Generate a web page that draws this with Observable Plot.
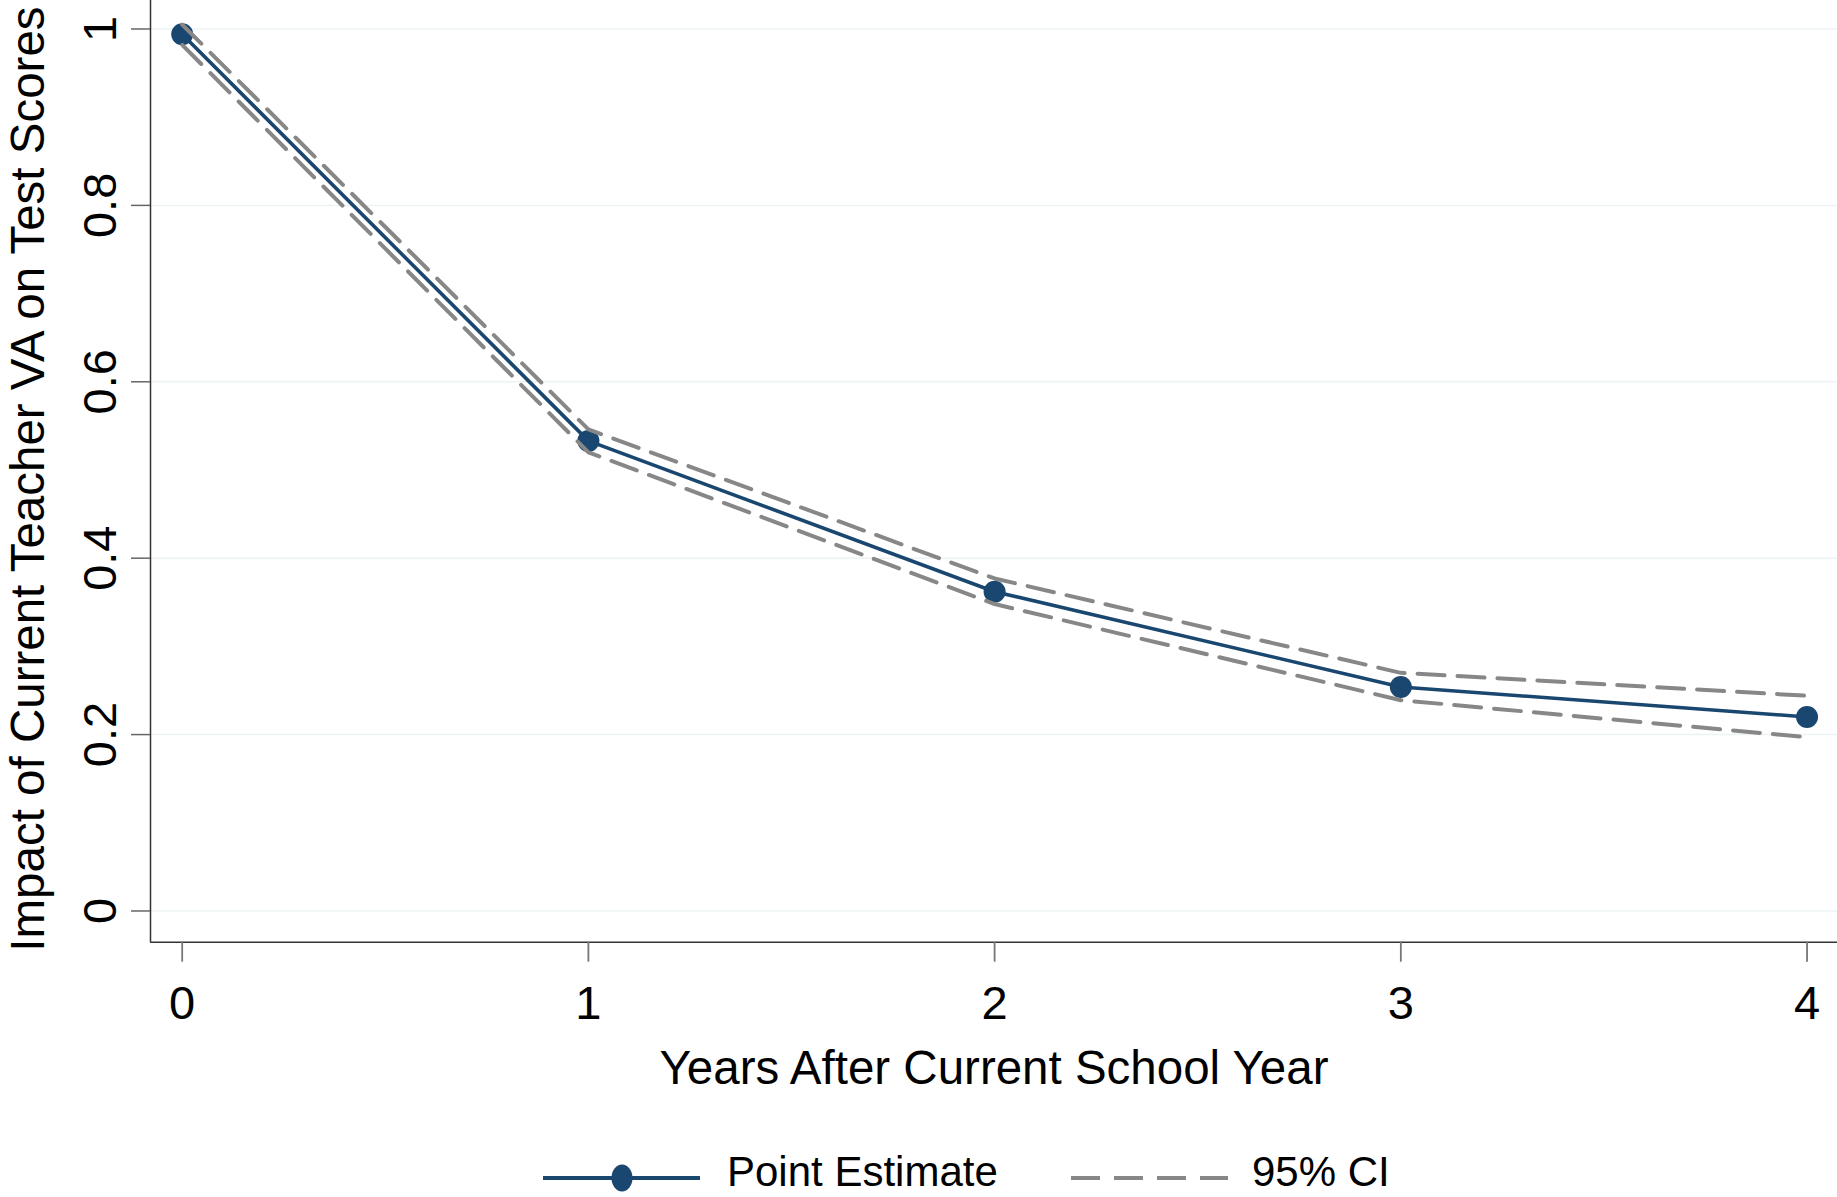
<!DOCTYPE html>
<html>
<head>
<meta charset="utf-8">
<script src="https://cdn.jsdelivr.net/npm/d3@7"></script>
<script src="https://cdn.jsdelivr.net/npm/@observablehq/plot@0.6"></script>
<style>
  html, body { margin: 0; padding: 0; background: white; }
  body { width: 1837px; height: 1197px; overflow: hidden; font-family: "Liberation Sans", Arial, sans-serif; }
  #legend { position: relative; width: 1837px; height: 67px; overflow: hidden; }
  #legend .sw { position: absolute; top: 0; }
  #legend .lab { position: absolute; font-size: 42px; line-height: 32px; color: black; white-space: nowrap; }
</style>
</head>
<body>
<div id="chart"></div>
<div id="legend"></div>
<script>
// ---- data ----
const years = [0, 1, 2, 3, 4];
const pointEstimate = [0.994, 0.533, 0.362, 0.254, 0.220];
const ciUpper = [1.005, 0.546, 0.377, 0.270, 0.244];
const ciLower = [0.982, 0.520, 0.348, 0.239, 0.197];
const xTicks = [0, 1, 2, 3, 4];
const xTickLabels = ["0", "1", "2", "3", "4"];
const yTicks = [0, 0.2, 0.4, 0.6, 0.8, 1];
const yTickLabels = ["0", "0.2", "0.4", "0.6", "0.8", "1"];
const xTitle = "Years After Current School Year";
const yTitle = "Impact of Current Teacher VA on Test Scores";
const seriesNames = ["Point Estimate", "95% CI"];

const table = years.map((x, i) => ({x, est: pointEstimate[i], hi: ciUpper[i], lo: ciLower[i]}));

const navy = "#1a476f";
const gray = "#878787";

const chart = Plot.plot({
  width: 1837,
  height: 1130,
  marginLeft: 150,
  marginRight: 0,
  marginTop: 0,
  marginBottom: 188.3,
  style: {fontFamily: "'Liberation Sans', Arial, sans-serif", fontSize: "47px", background: "white", overflow: "visible", color: "black"},
  x: {domain: [-0.078, 4.075]},
  y: {domain: [-0.0354, 1.0323]},
  marks: [
    Plot.gridY(yTicks, {stroke: "#edf3f3", strokeOpacity: 1, strokeWidth: 1.5}),
    Plot.ruleX([-0.078], {stroke: "#333", strokeWidth: 1.5}),
    Plot.ruleY([-0.0354], {stroke: "#333", strokeWidth: 1.5}),
    Plot.axisY(yTicks, {
      tickSize: 19, tickPadding: 16, tickRotate: -90, fontSize: 47,
      stroke: "#666", strokeWidth: 1.5, fill: "black",
      tickFormat: d => yTickLabels[yTicks.indexOf(d)], label: null
    }),
    Plot.axisX(xTicks, {
      tickSize: 20, tickPadding: 23, fontSize: 47,
      stroke: "#777", strokeWidth: 1.8, fill: "black",
      tickFormat: d => xTickLabels[xTicks.indexOf(d)], label: null
    }),
    Plot.text([xTitle], {frameAnchor: "bottom", dy: 141.3, lineAnchor: "bottom", fontSize: 47.5, fill: "black"}),
    Plot.text([yTitle], {frameAnchor: "left", dx: -107, dy: 7.7, rotate: -90, lineAnchor: "bottom", textAnchor: "middle", fontSize: 47.5, fill: "black"}),
    Plot.line(table, {x: "x", y: "est", stroke: navy, strokeWidth: 3.6}),
    Plot.dot(table, {x: "x", y: "est", r: 11, fill: navy, stroke: "none"}),
    Plot.line(table, {x: "x", y: "hi", stroke: gray, strokeWidth: 4, strokeDasharray: "27,13"}),
    Plot.line(table, {x: "x", y: "lo", stroke: gray, strokeWidth: 4, strokeDasharray: "27,13"})
  ]
});
document.getElementById("chart").appendChild(chart);

// ---- legend ----
const legend = document.getElementById("legend");
legend.innerHTML = `
  <svg class="sw" style="left:543px" width="158" height="67">
    <line x1="0" x2="157" y1="48" y2="48" stroke="${navy}" stroke-width="3.8"/>
    <ellipse cx="79" cy="48" rx="10.5" ry="13.5" fill="${navy}"/>
  </svg>
  <span class="lab" style="left:727px; top:26px">${seriesNames[0]}</span>
  <svg class="sw" style="left:1071px" width="158" height="67">
    <line x1="0" x2="157" y1="48" y2="48" stroke="${gray}" stroke-width="4" stroke-dasharray="29,14"/>
  </svg>
  <span class="lab" style="left:1252px; top:26px">${seriesNames[1]}</span>
`;
</script>
</body>
</html>
